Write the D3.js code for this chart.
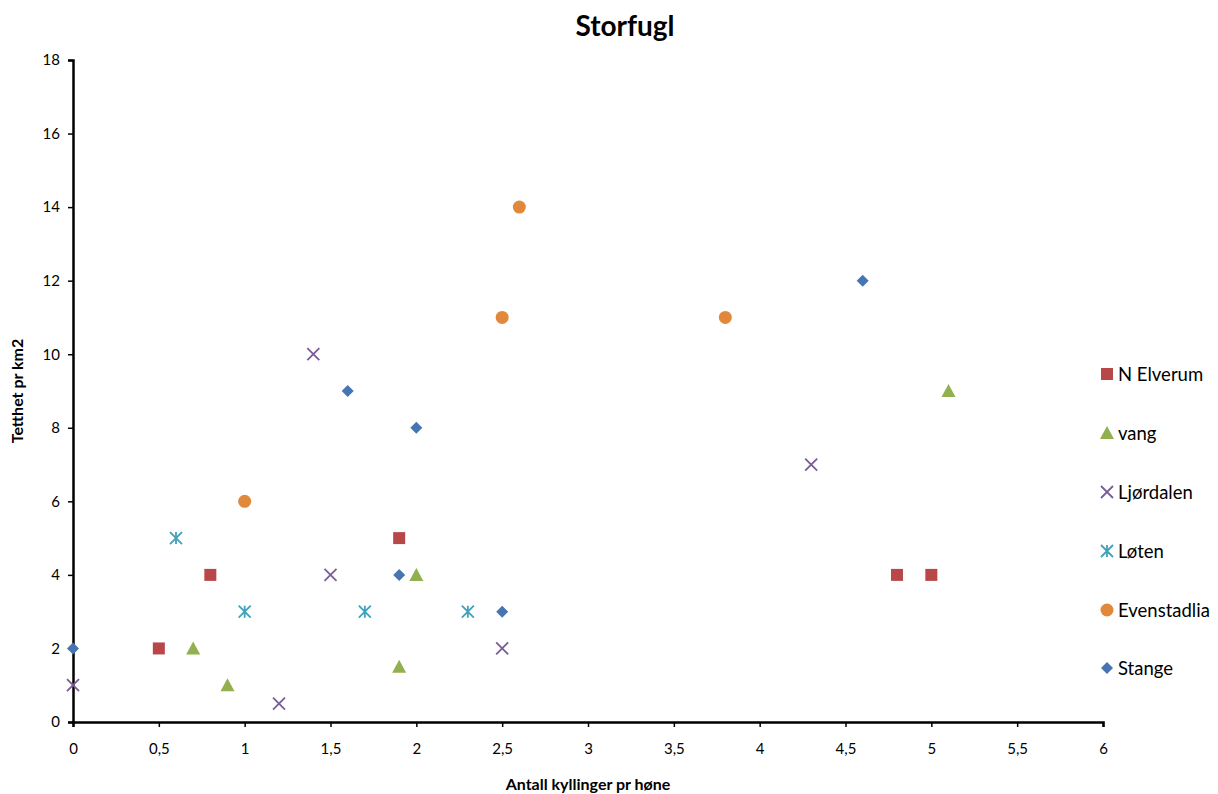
<!DOCTYPE html>
<html><head><meta charset="utf-8">
<script src="https://cdn.jsdelivr.net/npm/d3@7"></script>
<style>body{margin:0;background:#fff}svg{display:block;font-family:Lato,"Open Sans",sans-serif}</style>
</head><body><svg id="c" width="1218" height="794"></svg>
<script>
const xTicks = [0,0.5,1,1.5,2,2.5,3,3.5,4,4.5,5,5.5,6];
const yTicks = [0,2,4,6,8,10,12,14,16,18];
const seriesNames = ["N Elverum","vang","Ljørdalen","Løten","Evenstadlia","Stange"];
const nElverum = [[0.5,2],[0.8,4],[1.9,5],[4.8,4],[5,4]];
const vang = [[0.7,2],[0.9,1],[1.9,1.5],[2,4],[5.1,9]];
const ljordalen = [[0,1],[1.2,0.5],[1.4,10],[1.5,4],[2.5,2],[4.3,7]];
const loten = [[0.6,5],[1,3],[1.7,3],[2.3,3]];
const evenstadlia = [[1,6],[2.5,11],[2.6,14],[3.8,11]];
const stange = [[0,2],[1.6,9],[2,8],[1.9,4],[2.5,3],[4.6,12]];

const seriesData = [nElverum,vang,ljordalen,loten,evenstadlia,stange];
const colors = ["#B8474A","#92B04F","#7A5C98","#3FA2BA","#E2883B","#4675B2"];
const shapes = ["square","triangle","x","star","circle","diamond"];

const svg = d3.select("#c");
const x = d3.scaleLinear().domain([0,6]).range([73,1103]);
const y = d3.scaleLinear().domain([0,18]).range([722,60]);

svg.append("text").attr("x",625).attr("y",36).attr("text-anchor","middle")
  .attr("font-size",28).attr("font-weight","bold").text("Storfugl");

const fmt = d => String(d).replace(".",",");
const xa = svg.append("g").attr("transform","translate(0,722)")
  .call(d3.axisBottom(x).tickValues(xTicks).tickFormat(fmt).tickSizeOuter(0).tickSize(5).tickPadding(16));
const ya = svg.append("g").attr("transform","translate(73,0)")
  .call(d3.axisLeft(y).tickValues(yTicks).tickSizeOuter(0).tickSize(5).tickPadding(8));
[xa,ya].forEach(a=>{
  a.select(".domain").attr("stroke","#000").attr("stroke-width",2.5);
  a.selectAll(".tick line").attr("stroke","#000").attr("stroke-width",1.5);
  a.selectAll("text").attr("font-size",15).attr("fill","#000").attr("font-family","Lato,'Open Sans',sans-serif");
});

svg.append("text").attr("x",588).attr("y",790).attr("text-anchor","middle")
  .attr("font-size",16).attr("font-weight","bold").text("Antall kyllinger pr høne");
svg.append("text").attr("transform","translate(23,391) rotate(-90)").attr("text-anchor","middle")
  .attr("font-size",16).attr("font-weight","bold").text("Tetthet pr km2");

function marker(g, shape, color, cx, cy){
  if(shape==="square") g.append("rect").attr("x",cx-6).attr("y",cy-6).attr("width",12).attr("height",12).attr("fill",color);
  else if(shape==="triangle") g.append("path").attr("d",`M${cx},${cy-7}L${cx+7},${cy+6}L${cx-7},${cy+6}Z`).attr("fill",color);
  else if(shape==="diamond") g.append("path").attr("d",`M${cx},${cy-6}L${cx+6},${cy}L${cx},${cy+6}L${cx-6},${cy}Z`).attr("fill",color);
  else if(shape==="circle") g.append("circle").attr("cx",cx).attr("cy",cy).attr("r",6.5).attr("fill",color);
  else if(shape==="x") g.append("path").attr("d",`M${cx-6},${cy-6}L${cx+6},${cy+6}M${cx-6},${cy+6}L${cx+6},${cy-6}`).attr("stroke",color).attr("stroke-width",1.8);
  else if(shape==="star") g.append("path").attr("d",`M${cx-6},${cy-6}L${cx+6},${cy+6}M${cx-6},${cy+6}L${cx+6},${cy-6}M${cx},${cy-6}L${cx},${cy+6}`).attr("stroke",color).attr("stroke-width",1.8);
}

seriesData.forEach((d,i)=>{
  const g = svg.append("g");
  d.forEach(p=>marker(g,shapes[i],colors[i],x(p[0]),y(p[1])));
});

const legY = [374,433,492,551,610,668];
seriesNames.forEach((n,i)=>{
  const g = svg.append("g");
  marker(g,shapes[i],colors[i],1107,legY[i]);
  g.append("text").attr("x",1118).attr("y",legY[i]+7).attr("font-size",18.5).text(n);
});
</script></body></html>
